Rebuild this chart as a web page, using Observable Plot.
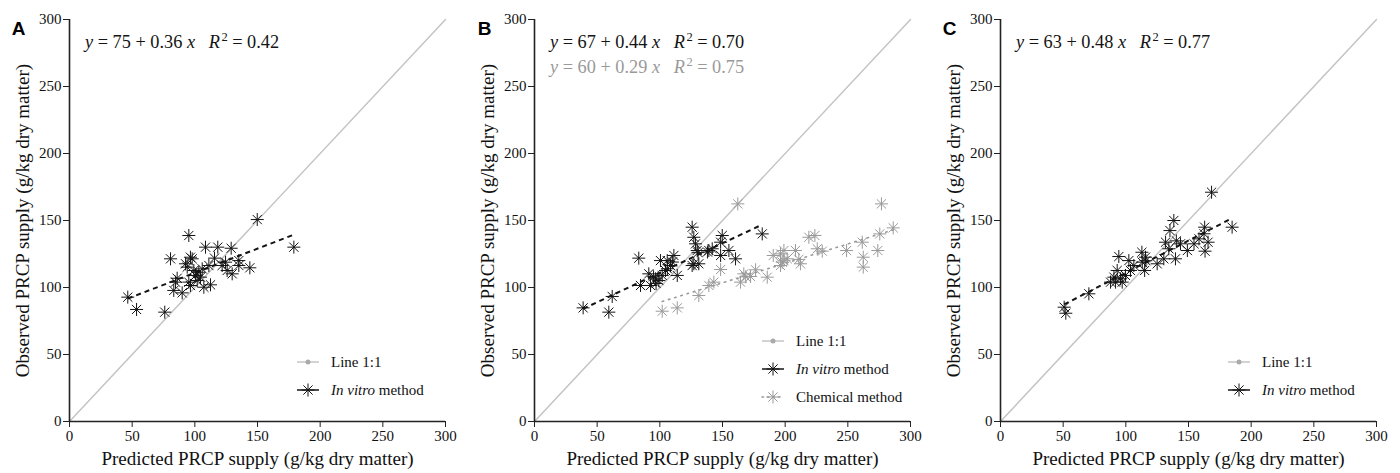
<!DOCTYPE html>
<html><head><meta charset="utf-8">
<script src="https://cdn.jsdelivr.net/npm/d3@7"></script>
<script src="https://cdn.jsdelivr.net/npm/@observablehq/plot@0.6"></script>
<style>
body{margin:0;background:#fff;}
#wrap{position:relative;width:1400px;height:473px;overflow:hidden;}
.panel{position:absolute;top:0;}
</style></head><body><div id="wrap"></div>
<script>
// ---------------- data ----------------
const axisDomain = [0, 300];
const tickValues = [0, 50, 100, 150, 200, 250, 300];
const xTitle = "Predicted PRCP supply (g/kg dry matter)";
const yTitle = "Observed PRCP supply (g/kg dry matter)";
const panelLetters = ["A", "B", "C"];

const inVitroA = [[46.5,92.8],[53.5,83.6],[76,81.6],[95.2,138.8],[80.6,121.4],[149.8,150.7],[179,130.1],[108.5,130.1],[118.3,130.1],[129,129.3],
  [96.5,122.6],[97.9,121.4],[115.7,121.9],[124.5,118.9],[135.1,120.1],[143.9,114.7],[125.8,112.7],[129.8,110.2],[135.1,116.4],[121.8,116.4],
  [111.2,116.4],[105.9,113.9],[103.2,111.4],[93.9,115.2],[99.2,112.7],[100.5,109],[104.5,107.7],[85.9,106.9],[84.6,104],[95.2,104],
  [96.5,101.5],[83.2,97.8],[89.9,96],[107.2,100.2],[112.5,102],[101.9,105.2],[92.6,117.7]];

const inVitroB = [[38.8,84.8],[59.3,81.6],[62,93.3],[83.2,121.9],[84.6,101.5],[91.2,110.2],[92.6,101.5],[96.6,106.5],[99.2,105.2],[100.5,120.1],
  [105.9,120.1],[111.2,123.9],[108.5,116.4],[104.5,112.7],[101.9,109],[113.9,109],[106,114],[110,119],[125.8,145],[127.1,137.5],
  [128.5,132.6],[129.8,127.6],[125.8,116.4],[131.1,117.7],[139.1,127.6],[141.8,128.9],[149.8,138.8],[148.5,133.8],[148.5,123.9],[155.1,127.6],
  [160.4,121.4],[181.7,140],[127.1,117.7],[130.5,126],[138,126.5],[95,108],[97,103]];

const chemicalB = [[101.9,82.3],[113.9,84.8],[131.1,94],[139.1,101.5],[143.1,104],[148.5,113.4],[162.2,162.4],[164.4,104],[167,110.2],[168.5,108],
  [172.4,108.2],[176.4,113.2],[185.7,107.7],[190.5,123.9],[196.3,125.1],[199,127.6],[197.6,118.9],[201.6,121.4],[196.3,116.4],[199,120],
  [208.2,127.6],[212.2,117.7],[210.9,121],[218.9,137.5],[223.7,138.8],[225.6,128.9],[229.6,127.1],[249,127.6],[261.5,133.8],[262.3,122.6],
  [262.3,115.2],[273.9,127.6],[275.5,140],[276.8,162.4],[286.2,144.5]];

const inVitroC = [[168.4,171.1],[184.8,145],[138.3,150],[135.2,142.5],[162.9,145],[162.4,140.1],[165.6,133.8],[163.2,127.1],[158.4,136.3],[154.4,132.6],
  [149.1,127.6],[143.6,132.6],[131.7,133.8],[134.3,128.9],[139.6,121.4],[130.3,121.4],[125,117.7],[140.3,134.8],[112.8,126.3],[115.7,122.6],
  [113.1,118.9],[115,112.7],[94.4,123.1],[102.4,120.1],[103.7,112.7],[99.7,109],[93.1,112.7],[95.8,106.5],[91.8,104],[87.8,104],
  [97.1,104],[90.5,107.7],[106.4,116.4],[116,120],[70.5,95.3],[50.8,85.3],[52.1,80.8]];

// regression fits read from the equations: [intercept, slope, R2]
const fitInVitroA = [75, 0.36, 0.42];
const fitInVitroB = [67, 0.44, 0.70];
const fitChemicalB = [60, 0.29, 0.75];
const fitInVitroC = [63, 0.48, 0.77];

const legendLine = [["Line 1:1", false]];
const legendInVitro = [["In vitro", true], [" method", false]];
const legendChemical = [["Chemical method", false]];

// ---------------- drawing ----------------
const BLACK = "#141414", GREY = "#9a9a9a", LIGHT = "#c4c4c4";
const asterisk = {
  draw(ctx, size) {
    const r = Math.sqrt(size / Math.PI), d = r * Math.SQRT1_2;
    ctx.moveTo(-r, 0); ctx.lineTo(r, 0);
    ctx.moveTo(0, -r); ctx.lineTo(0, r);
    ctx.moveTo(-d, -d); ctx.lineTo(d, d);
    ctx.moveTo(-d, d); ctx.lineTo(d, -d);
  }
};
const R_DOT = 6.5;

function fitLine(data, fit) {
  const [x0, x1] = d3.extent(data, d => d[0]);
  return [x0, x1].map(x => [x, fit[0] + fit[1] * x]);
}

function makePanel(cfg) {
  const W = 466, H = 473, mT = 19, mB = 52, mL = cfg.mL, mR = W - mL - 376;
  const marks = [
    Plot.line(axisDomain.map(v => [v, v]), {stroke: LIGHT, strokeWidth: 1.5})
  ];
  for (const s of cfg.series) {
    marks.push(Plot.dot(s.data, {x: d => d[0], y: d => d[1], symbol: asterisk, r: R_DOT,
      stroke: s.color, strokeWidth: 1, fill: "none"}));
    marks.push(Plot.line(fitLine(s.data, s.fit), {stroke: s.color, strokeWidth: s.dash === "dot" ? 1.6 : 2,
      strokeDasharray: s.dash === "dot" ? "1.5,5" : "5,4", strokeLinecap: s.dash === "dot" ? "round" : "butt"}));
  }
  marks.push(
    Plot.axisX({ticks: tickValues, tickSize: 6, tickPadding: 3, label: null, stroke: "#222"}),
    Plot.axisY({ticks: tickValues, tickSize: 6, tickPadding: 2, label: null, stroke: "#222"}),
    Plot.ruleX([0], {stroke: "#222", strokeWidth: 1.6}),
    Plot.ruleY([0], {stroke: "#222", strokeWidth: 1.6}),
    Plot.text([xTitle], {frameAnchor: "bottom", dy: 37, textAnchor: "middle", lineAnchor: "middle", fontSize: 19, fill: "#111"}),
    Plot.text([yTitle], {frameAnchor: "left", dx: -47, rotate: -90, textAnchor: "middle", lineAnchor: "middle", fontSize: 19, fill: "#111"}),
    Plot.text([cfg.letter], {frameAnchor: "top-left", dx: cfg.letterDx, dy: 9, textAnchor: "middle", lineAnchor: "middle",
      fontFamily: "Liberation Sans", fontWeight: "bold", fontSize: 19, fill: "#000"})
  );
  const svg = Plot.plot({
    width: W, height: H, marginTop: mT, marginBottom: mB, marginLeft: mL, marginRight: mR,
    x: {domain: axisDomain}, y: {domain: axisDomain},
    style: {fontFamily: "Liberation Serif", fontSize: "15px", color: "#111", background: "white", overflow: "visible"},
    marks
  });
  const s = d3.select(svg);
  // equations
  cfg.series.forEach((se, i) => {
    const [a, b, r2] = se.fit;
    const t = s.append("text").attr("x", mL + 16).attr("y", 48 + i * 25)
      .attr("text-anchor", "start")
      .attr("font-family", "Liberation Serif").attr("font-size", 18.3)
      .attr("fill", se.color).style("white-space", "pre");
    t.append("tspan").attr("font-style", "italic").text("y");
    t.append("tspan").text(` = ${a} + ${b.toFixed(2)} `);
    t.append("tspan").attr("font-style", "italic").text("x");
    t.append("tspan").text("   ");
    t.append("tspan").attr("font-style", "italic").text("R");
    t.append("tspan").attr("dy", -7.5).attr("dx", 1.5).attr("font-size", 12.5).text("2");
    t.append("tspan").attr("dy", 7.5).text(` = ${r2.toFixed(2)}`);
  });
  // legend
  const g = s.append("g").attr("font-family", "Liberation Serif").attr("font-size", 15).attr("text-anchor", "start");
  cfg.legend.forEach((row, i) => {
    const y = mT + cfg.legendTop + i * 28;
    const x0 = mL + 228, x1 = mL + 250, cx = (x0 + x1) / 2;
    g.append("line").attr("x1", x0).attr("x2", x1).attr("y1", y).attr("y2", y)
      .attr("stroke", row.lineColor).attr("stroke-width", row.dotted ? 1.6 : 1.5)
      .attr("stroke-dasharray", row.dotted ? "1.5,4" : null).attr("stroke-linecap", row.dotted ? "round" : null);
    if (row.kind === "dot") {
      g.append("circle").attr("cx", cx).attr("cy", y).attr("r", 2.5).attr("fill", "#aaa");
    } else {
      g.append("path").attr("transform", `translate(${cx},${y})`)
        .attr("d", d3.symbol(asterisk, R_DOT * R_DOT * Math.PI)())
        .attr("stroke", row.lineColor).attr("stroke-width", 1).attr("fill", "none");
    }
    const t = g.append("text").attr("x", mL + 262).attr("y", y + 5).attr("fill", "#111");
    row.parts.forEach(([str, it]) => t.append("tspan").attr("font-style", it ? "italic" : null).text(str));
  });
  return svg;
}

const L1 = {kind: "dot", lineColor: LIGHT, parts: legendLine};
const LV = {kind: "ast", lineColor: BLACK, parts: legendInVitro};
const LC = {kind: "ast", lineColor: GREY, dotted: true, parts: legendChemical};

const panels = [
  {left: 0, mL: 69, letter: panelLetters[0], letterDx: -51, legendTop: 343, legend: [L1, LV],
   series: [{data: inVitroA, fit: fitInVitroA, color: BLACK, dash: "dash"}]},
  {left: 466, mL: 68, letter: panelLetters[1], letterDx: -50, legendTop: 322, legend: [L1, LV, LC],
   series: [{data: inVitroB, fit: fitInVitroB, color: BLACK, dash: "dash"},
            {data: chemicalB, fit: fitChemicalB, color: GREY, dash: "dot"}]},
  {left: 932, mL: 68, letter: panelLetters[2], letterDx: -51, legendTop: 343, legend: [L1, LV],
   series: [{data: inVitroC, fit: fitInVitroC, color: BLACK, dash: "dash"}]}
];

const wrap = document.getElementById("wrap");
for (const p of panels) {
  const div = document.createElement("div");
  div.className = "panel";
  div.style.left = p.left + "px";
  div.appendChild(makePanel(p));
  wrap.appendChild(div);
}
</script></body></html>
